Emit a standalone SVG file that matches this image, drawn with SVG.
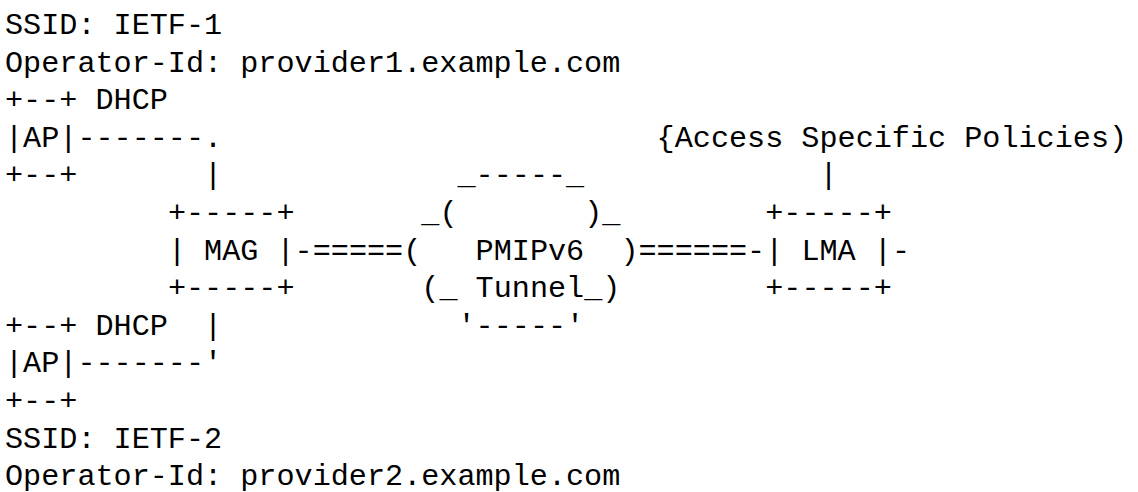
<svg xmlns="http://www.w3.org/2000/svg" width="1138" height="492" viewBox="0 0 1138 492">
<style>
text{font-family:"Liberation Mono","DejaVu Sans Mono",monospace;font-size:30.16px;fill:#000;white-space:pre}
</style>
<rect width="1138" height="492" fill="#fff"/>
<g id="ap1">
<text x="5" y="34">SSID: IETF-1</text>
<text x="5" y="71.6">Operator-Id: provider1.example.com</text>
<text x="5" y="109.2">+--+</text>
<text x="5" y="146.8">|AP|</text>
<text x="5" y="184.4">+--+</text>
</g>
<g id="ap2">
<text x="5" y="334.8">+--+</text>
<text x="5" y="372.4">|AP|</text>
<text x="5" y="410">+--+</text>
<text x="5" y="447.6">SSID: IETF-2</text>
<text x="5" y="485.2">Operator-Id: provider2.example.com</text>
</g>
<g id="mag">
<text x="167.9" y="222">+-----+</text>
<text x="167.9" y="259.6" xml:space="preserve">| MAG |</text>
<text x="167.9" y="297.2">+-----+</text>
</g>
<g id="tunnel">
<text x="457.5" y="184.4">_-----_</text>
<text x="421.3" y="222">_(</text>
<text x="584.2" y="222">)_</text>
<text x="403.2" y="259.6">(</text>
<text x="475.6" y="259.6">PMIPv6</text>
<text x="620.4" y="259.6">)</text>
<text x="421.3" y="297.2" xml:space="preserve">(_ Tunnel_)</text>
<text x="457.5" y="334.8">'-----'</text>
</g>
<g id="lma">
<text x="765.2" y="222">+-----+</text>
<text x="765.2" y="259.6" xml:space="preserve">| LMA |</text>
<text x="765.2" y="297.2">+-----+</text>
</g>
<g id="policies">
<text x="656.6" y="146.8">{Access Specific Policies)</text>
</g>
<g id="connectors">
<text x="95.5" y="109.2">DHCP</text>
<text x="77.4" y="146.8">-------.</text>
<text x="204.1" y="184.4">|</text>
<text x="819.5" y="184.4">|</text>
<text x="294.6" y="259.6">-=====</text>
<text x="638.5" y="259.6">======-</text>
<text x="891.9" y="259.6">-</text>
<text x="95.5" y="334.8">DHCP</text>
<text x="204.1" y="334.8">|</text>
<text x="77.4" y="372.4">-------'</text>
</g>
</svg>
